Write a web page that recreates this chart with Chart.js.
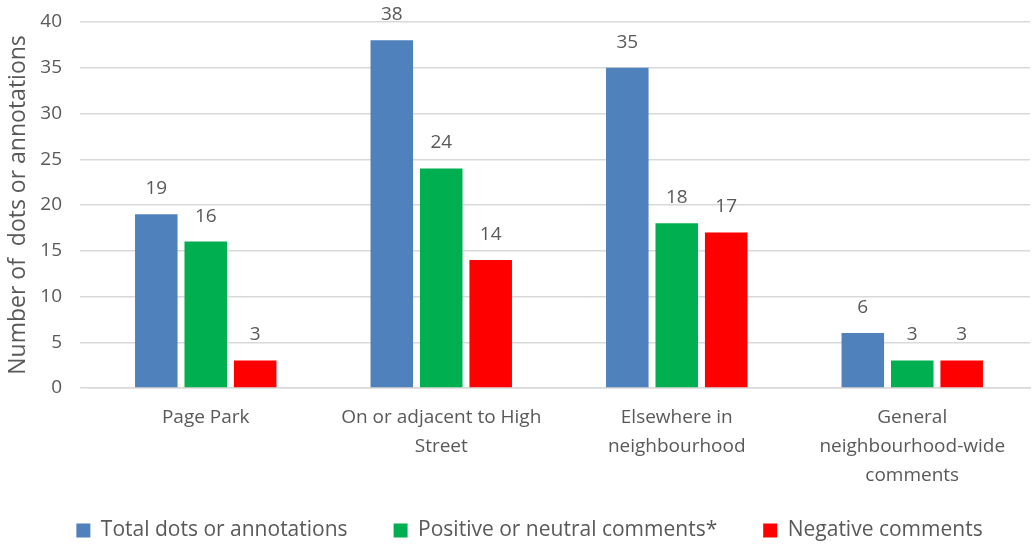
<!DOCTYPE html>
<html>
<head>
<meta charset="utf-8">
<script src="https://cdn.jsdelivr.net/npm/chart.js@4"></script>
<style>
  html, body { margin: 0; padding: 0; background: #fff; }
  #wrap { width: 1033px; height: 544px; }
</style>
</head>
<body>
<div id="wrap"><canvas id="barChart"></canvas></div>
<script>
var categories = [
  "Page Park",
  ["On or adjacent to High", "Street"],
  ["Elsewhere in", "neighbourhood"],
  ["General", "neighbourhood-wide", "comments"]
];
var seriesNames = ["Total dots or annotations", "Positive or neutral comments*", "Negative comments"];
var totalDots = [19, 38, 35, 6];
var positiveComments = [16, 24, 18, 3];
var negativeComments = [3, 14, 17, 3];
var seriesColors = ["#4F81BD", "#00B050", "#FF0000"];
var yTicks = [0, 5, 10, 15, 20, 25, 30, 35, 40];

var textColor = "#595959";
var fontFamily = "'Open Sans', sans-serif";

// draws the value above each bar, like the office chart does
var valueLabels = {
  id: 'valueLabels',
  afterDatasetsDraw: function(chart) {
    var ctx = chart.ctx;
    ctx.save();
    ctx.fillStyle = textColor;
    ctx.font = "19px " + fontFamily;
    ctx.textAlign = "center";
    ctx.textBaseline = "bottom";
    chart.data.datasets.forEach(function(ds, i) {
      chart.getDatasetMeta(i).data.forEach(function(bar, j) {
        ctx.fillText(ds.data[j], bar.x, bar.y - 16);
      });
    });
    ctx.restore();
  }
};

// nudge the legend: a bit right and up, like the original
var legendNudge = {
  id: 'legendNudge',
  afterLayout: function(chart) {
    var lg = chart.legend;
    lg.left = 1059 - lg.right;
    var h = lg.bottom - lg.top;
    lg.top = 474;
    lg.bottom = lg.top + h;
  }
};

var ctx = document.getElementById("barChart").getContext('2d');
new Chart(ctx, {
  type: 'bar',
  data: {
    labels: categories,
    datasets: [totalDots, positiveComments, negativeComments].map(function(d, i) {
      return {
        label: seriesNames[i],
        data: d,
        backgroundColor: seriesColors[i],
        categoryPercentage: 0.63,
        barPercentage: 0.86
      };
    })
  },
  options: {
    responsive: true,
    maintainAspectRatio: false,
    animation: false,
    layout: { padding: { top: 0, right: 3, left: 0, bottom: -21 } },
    plugins: {
      tooltip: { enabled: false },
      legend: {
        position: 'bottom',
        labels: {
          color: textColor,
          font: { family: fontFamily, size: 21 },
          boxWidth: 14,
          boxHeight: 14,
          padding: 46
        }
      }
    },
    scales: {
      x: {
        grid: { display: false },
        border: { display: true, color: "#D9D9D9", width: 1.5 },
        ticks: {
          color: textColor,
          font: { family: fontFamily, size: 19, lineHeight: 1.53 },
          padding: 7,
          maxRotation: 0
        },
        afterFit: function(scale) { scale.height = 100; }
      },
      y: {
        min: 0,
        max: 40,
        afterBuildTicks: function(scale) {
          scale.ticks = yTicks.map(function(v) { return { value: v }; });
        },
        grid: { color: "#D9D9D9", lineWidth: 1.5 },
        border: { display: false },
        ticks: {
          color: textColor,
          font: { family: fontFamily, size: 19 },
          padding: 18
        },
        title: {
          display: true,
          text: "Number of  dots or annotations",
          color: textColor,
          font: { family: fontFamily, size: 23 },
          padding: { top: 5, bottom: 2 }
        },
        afterFit: function(scale) {
          scale.width = 88;
          scale.paddingTop = 22;  // keep the tick padding from pushing the plot down
        }
      }
    }
  },
  plugins: [valueLabels, legendNudge]
});
</script>
</body>
</html>
